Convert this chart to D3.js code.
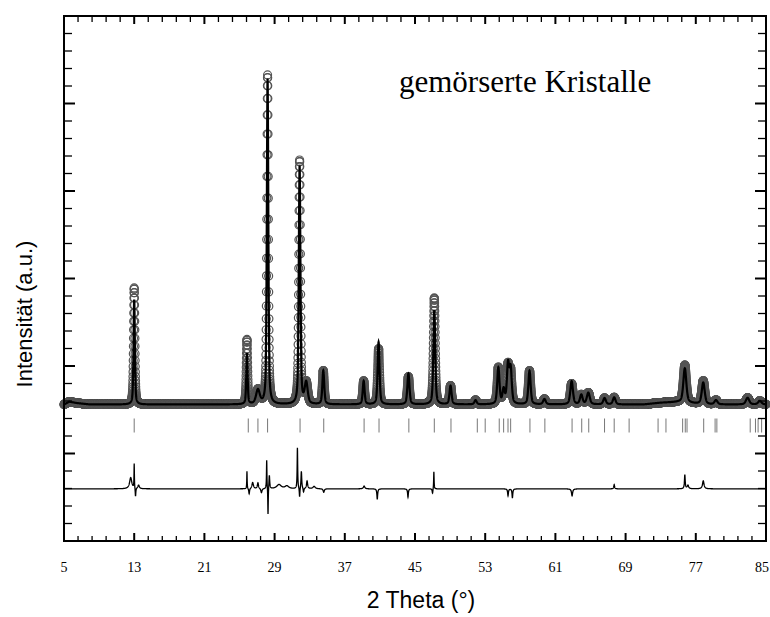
<!DOCTYPE html>
<html>
<head>
<meta charset="utf-8">
<script src="https://cdn.jsdelivr.net/npm/d3@7"></script>
<style>
body { margin: 0; background: #fff; }
</style>
</head>
<body>
<div id="chart"></div>
<script>
// tick labels on the 2 theta axis
var thetaLabels = [5, 13, 21, 29, 37, 45, 53, 61, 69, 77, 85];

// reflections (height above background, a.u.)
var peakPos  = [13.0, 25.85, 27.1, 28.2, 31.85, 32.6, 34.55, 39.15, 40.85, 44.25, 47.2, 49.05, 51.9, 54.5, 55.1, 55.6, 55.9, 58.05, 59.75, 62.85, 63.95, 64.75, 66.6, 67.7, 75.75, 77.85, 79.3, 82.9, 84.3];
var peakObs  = [33.3, 18.4, 4.0, 94.0, 69.6, 6.0, 9.6, 6.7, 15.9, 7.9, 30.4, 5.3, 1.2, 10.4, 4.0, 10.5, 9.0, 9.6, 1.5, 5.9, 2.7, 3.3, 1.8, 2.0, 10.7, 6.7, 1.2, 1.9, 1.0];
var peakCalc = [30.0, 14.5, 4.0, 93.0, 68.0, 6.0, 9.6, 6.7, 17.8, 8.8, 27.0, 5.3, 1.2, 10.4, 4.0, 11.1, 9.8, 9.6, 1.5, 6.6, 2.7, 3.3, 1.8, 2.0, 9.8, 6.2, 1.2, 1.9, 1.0];
var peakFwhm = [0.18, 0.18, 0.5, 0.2, 0.22, 0.4, 0.25, 0.25, 0.25, 0.28, 0.25, 0.28, 0.3, 0.3, 0.3, 0.3, 0.3, 0.3, 0.35, 0.35, 0.35, 0.4, 0.35, 0.35, 0.4, 0.4, 0.4, 0.45, 0.45];

// background level
var bgPos = [5, 5.6, 6.5, 8, 20, 40, 60, 71, 73, 75, 78, 85];
var bgVal = [39.0, 39.8, 39.4, 39.0, 39.0, 39.0, 39.0, 39.0, 39.5, 39.7, 39.0, 39.0];

// Bragg reflection positions
var braggPos = [13.0, 26.0, 27.1, 28.2, 31.9, 34.6, 39.2, 40.9, 44.3, 47.2, 49.1, 52.1, 53.0, 54.6, 55.1, 55.6, 55.9, 58.1, 59.8, 62.9, 64.0, 64.8, 66.6, 67.7, 69.4, 72.7, 73.6, 75.5, 75.8, 76.0, 77.9, 79.2, 79.4, 83.2, 83.8, 84.1, 84.5];

// difference curve features (obs - calc)
var diffPos  = [12.6, 13.0, 13.15, 13.5, 25.85, 26.1, 26.5, 27.1, 27.5, 28.1, 28.25, 28.4, 29.5, 30.4, 31.6, 31.85, 32.05, 32.3, 32.7, 33.5, 34.6, 39.2, 40.7, 44.2, 47.0, 47.15, 55.6, 56.1, 62.9, 67.7, 75.75, 76.1, 77.85];
var diffAmp  = [3.2, 7.0, -2.6, 1.0, 5.0, -1.6, 1.8, 1.7, -1.2, 8.3, -8.0, 4.0, 1.2, 0.8, 11.7, -2.8, 5.0, -1.2, 2.2, 0.7, -1.0, 0.8, -3.0, -2.4, -1.4, 5.0, -2.0, -2.6, -2.0, 1.2, 4.0, 1.0, 2.3];
var diffFwhm = [0.3, 0.05, 0.08, 0.2, 0.05, 0.1, 0.2, 0.15, 0.15, 0.06, 0.06, 0.1, 0.6, 0.5, 0.07, 0.08, 0.1, 0.1, 0.15, 0.3, 0.15, 0.2, 0.1, 0.1, 0.1, 0.06, 0.1, 0.1, 0.15, 0.1, 0.1, 0.2, 0.2];
var diffZero = 14.9;

// Chart dimensions.
var margin = {top: 16, right: 4, bottom: 76, left: 64},
	width = 770 - margin.left - margin.right,
	height = 617 - margin.top - margin.bottom;

var xScale = d3.scaleLinear().domain([5, 85]).range([0, width]),
	yScale = d3.scaleLinear().domain([0, 150]).range([height, 0]);

var svg = d3.select("#chart").append("svg")
	.attr("width", 770)
	.attr("height", 617)
	.append("g")
	.attr("transform", "translate(" + margin.left + "," + margin.top + ")");

function pv(dx, w) {
	var t = (dx / w) * (dx / w);
	return 0.5 / (1 + 4 * t) + 0.5 * Math.exp(-4 * Math.LN2 * t);
}
function lor(dx, w) {
	var t = (dx / w) * (dx / w);
	return 1 / (1 + 4 * t);
}
var bg = d3.scaleLinear().domain(bgPos).range(bgVal);

function profile(tt, heights) {
	var s = bg(tt);
	for (var i = 0; i < peakPos.length; i++) {
		s += heights[i] * pv(tt - peakPos[i], peakFwhm[i]);
	}
	return s;
}
function difference(tt) {
	var s = diffZero;
	for (var i = 0; i < diffPos.length; i++) {
		s += diffAmp[i] * lor(tt - diffPos[i], diffFwhm[i]);
	}
	return s;
}

var steps = d3.range(0, 8001).map(function(i) { return 5 + i * 0.01; });
var obs = steps.map(function(t) { return {t: t, v: profile(t, peakObs)}; });
var calc = steps.map(function(t) { return {t: t, v: profile(t, peakCalc)}; });
var diff = steps.map(function(t) { return {t: t, v: difference(t)}; });

var line = d3.line()
	.x(function(d) { return xScale(d.t); })
	.y(function(d) { return yScale(d.v); });

// observed points
svg.append("g")
	.selectAll("circle")
	.data(obs)
	.enter().append("circle")
	.attr("cx", function(d) { return xScale(d.t); })
	.attr("cy", function(d) { return yScale(d.v); })
	.attr("r", 4)
	.style("fill", "none")
	.style("stroke", "#555")
	.style("stroke-width", 1.2);

// calculated profile
svg.append("path")
	.datum(calc)
	.attr("d", line)
	.style("fill", "none")
	.style("stroke", "#000")
	.style("stroke-width", 2.2);

// Bragg positions
svg.append("g")
	.selectAll("line")
	.data(braggPos)
	.enter().append("line")
	.attr("x1", function(d) { return xScale(d); })
	.attr("x2", function(d) { return xScale(d); })
	.attr("y1", yScale(35))
	.attr("y2", yScale(31))
	.style("stroke", "#777")
	.style("stroke-width", 1);

// difference curve
svg.append("path")
	.datum(diff)
	.attr("d", line)
	.style("fill", "none")
	.style("stroke", "#000")
	.style("stroke-width", 1.3);

// frame
svg.append("rect")
	.attr("width", width)
	.attr("height", height)
	.style("fill", "none")
	.style("stroke", "#000")
	.style("stroke-width", 2);

// ticks on all four sides, pointing inward
var xTicks = d3.range(0, 51).map(function(i) { return { v: 5 + 1.6 * i, major: i % 5 === 0 }; });
var yTicks = d3.range(0, 31).map(function(i) { return { v: i * 5, major: i % 5 === 0 }; });

var ticks = svg.append("g").style("stroke", "#000").style("stroke-width", 1.3);
ticks.selectAll(".xb").data(xTicks).enter().append("line")
	.attr("x1", function(d) { return xScale(d.v); })
	.attr("x2", function(d) { return xScale(d.v); })
	.attr("y1", height)
	.attr("y2", function(d) { return height - (d.major ? 8 : 5); })
	.style("stroke-width", function(d) { return d.major ? 2 : 1.3; });
ticks.selectAll(".xt").data(xTicks).enter().append("line")
	.attr("x1", function(d) { return xScale(d.v); })
	.attr("x2", function(d) { return xScale(d.v); })
	.attr("y1", 0)
	.attr("y2", function(d) { return d.major ? 8 : 6; })
	.style("stroke-width", function(d) { return d.major ? 2 : 1.3; });
ticks.selectAll(".yl").data(yTicks).enter().append("line")
	.attr("x1", 0)
	.attr("x2", function(d) { return d.major ? 11 : 8; })
	.attr("y1", function(d) { return yScale(d.v); })
	.attr("y2", function(d) { return yScale(d.v); })
	.style("stroke-width", function(d) { return d.major ? 2 : 1.3; });
ticks.selectAll(".yr").data(yTicks).enter().append("line")
	.attr("x1", width)
	.attr("x2", function(d) { return width - (d.major ? 11 : 8); })
	.attr("y1", function(d) { return yScale(d.v); })
	.attr("y2", function(d) { return yScale(d.v); })
	.style("stroke-width", function(d) { return d.major ? 2 : 1.3; });

// tick labels
svg.append("g")
	.selectAll("text")
	.data(thetaLabels)
	.enter().append("text")
	.attr("x", function(d) { return xScale(d) + (d === 85 ? -4 : 0); })
	.attr("y", height + 31)
	.attr("text-anchor", "middle")
	.style("font-family", "'Liberation Serif', 'Times New Roman', serif")
	.style("font-size", "14px")
	.style("fill", "#000")
	.text(function(d) { return d; });

// axis titles
svg.append("text")
	.attr("x", 357)
	.attr("y", 592)
	.attr("text-anchor", "middle")
	.style("font-family", "'Liberation Sans', Arial, sans-serif")
	.style("font-size", "23px")
	.text("2 Theta (\u00b0)");

svg.append("text")
	.attr("transform", "translate(-32," + 298 + ") rotate(-90)")
	.attr("text-anchor", "middle")
	.style("font-family", "'Liberation Sans', Arial, sans-serif")
	.style("font-size", "22px")
	.text("Intensit\u00e4t (a.u.)");

// sample label
svg.append("text")
	.attr("x", 335)
	.attr("y", 76)
	.style("font-family", "'Liberation Serif', 'Times New Roman', serif")
	.style("font-size", "31px")
	.text("gem\u00f6rserte Kristalle");
</script>
</body>
</html>
